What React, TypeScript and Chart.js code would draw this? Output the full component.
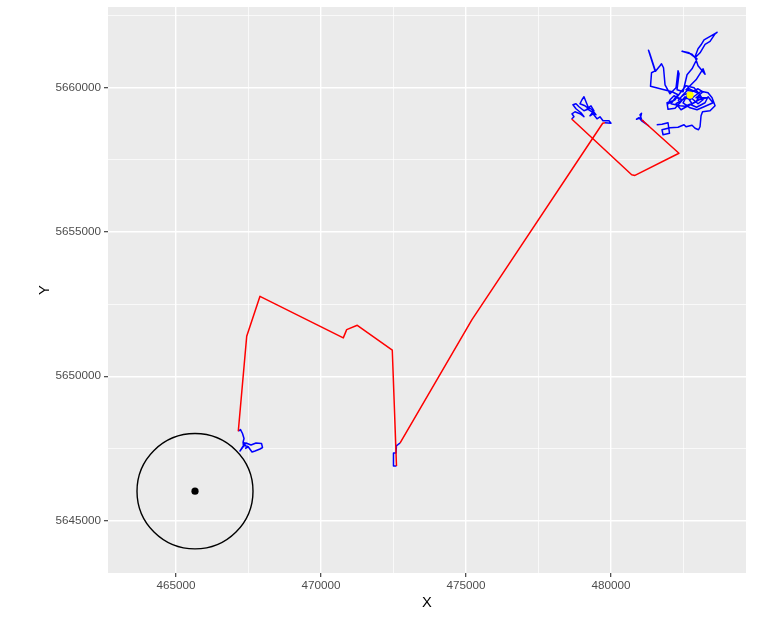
import React, { useEffect, useRef } from "react";
import { Chart, registerables } from "chart.js";

Chart.register(...registerables);

// axis ranges and ticks
const xRange = [462655, 484655];
const yRange = [5643180, 5662800];
const xMajor = [465000, 470000, 475000, 480000];
const xMinor = [467500, 472500, 477500, 482500];
const yMajor = [5645000, 5650000, 5655000, 5660000];
const yMinor = [5647500, 5652500, 5657500, 5662500];

// circle (center + radius in metres) and its centre point
const circleCenter: [number, number] = [465655, 5646015];
const circleRadius = 2000;
const yellowPoint: [number, number] = [482725, 5659747];

// blue GPS tracks
const blueTrack1: [number, number][] = [
  [467148, 5648095], [467224, 5648153], [467293, 5648015], [467345, 5647842],
  [467311, 5647703], [467414, 5647668], [467328, 5647599], [467207, 5647409],
  [467345, 5647599], [467483, 5647565], [467621, 5647374], [467725, 5647409],
  [467897, 5647478], [467983, 5647530], [467949, 5647668], [467759, 5647686],
  [467587, 5647616], [467414, 5647686], [467311, 5647651], [467483, 5647547],
  [467380, 5647495],
];
const blueTrack2: [number, number][] = [
  [472603, 5646889], [472499, 5646889], [472499, 5647339], [472586, 5647339],
  [472603, 5647599], [472655, 5647634], [472724, 5647685],
];
const blueTrack3: [number, number][] = [
  [479793, 5658788], [480000, 5658770], [479931, 5658857], [479724, 5658857],
  [479620, 5658995], [479517, 5658926], [479379, 5659099], [479275, 5659030],
  [479413, 5659203], [479310, 5659376], [479172, 5659273],
  [479482, 5659065], [479344, 5659238], [479206, 5659342],
  [479137, 5659515], [479068, 5659688], [478999, 5659584], [478930, 5659446],
  [479102, 5659376], [479240, 5659273], [479068, 5659203], [478895, 5659342],
  [478792, 5659446], [478688, 5659411], [478792, 5659273], [478964, 5659134],
  [479068, 5658995], [478930, 5659099], [478757, 5659169], [478654, 5659099],
  [478723, 5658995], [478644, 5658916],
];
const blueTrack4: [number, number][] = [
  [481059, 5658892], [481000, 5659065], [481052, 5659117], [481017, 5658961],
  [480879, 5658909], [480966, 5658961], [481069, 5658840], [481207, 5658753],
  [481293, 5658684], [481173, 5658770], [481086, 5658874],
];
const blueTrack5: [number, number][] = [
  [481576, 5658718], [481759, 5658736], [481966, 5658788], [482018, 5658424],
  [481794, 5658372], [481759, 5658545], [482035, 5658614], [482311, 5658632],
  [482518, 5658718], [482587, 5658649], [482794, 5658701], [482898, 5658597],
  [483018, 5658545], [483070, 5658649], [483105, 5659030], [483156, 5659169],
  [483415, 5659203], [483588, 5659376], [483484, 5659654], [483346, 5659827],
  [483105, 5659879], [482898, 5659723], [482725, 5659584], [482553, 5659688],
  [482380, 5659480], [482208, 5659290], [481966, 5659255], [481932, 5659480],
  [482139, 5659550], [482311, 5659758], [482104, 5659861], [481966, 5659896],
  [481362, 5660052], [481397, 5660520], [481518, 5660589], [481293, 5661299],
  [481328, 5661212], [481535, 5660572], [481690, 5660762], [481742, 5660831],
  [481811, 5660693], [481863, 5660104], [482035, 5659792], [482242, 5660000],
  [482311, 5660589], [482346, 5660485], [482277, 5659931], [482484, 5659861],
  [482622, 5660450], [482794, 5660658], [482967, 5661005], [482691, 5661212],
  [482449, 5661264], [482794, 5661160], [482898, 5661039], [483070, 5661212],
  [483243, 5661507], [483415, 5661611], [483588, 5661871], [483657, 5661923],
  [483450, 5661801], [483208, 5661663], [483105, 5661490], [483001, 5661351],
  [482898, 5661074], [483001, 5660762], [483243, 5660468], [483174, 5660658],
  [482932, 5660277], [482725, 5660069], [482587, 5659931], [482794, 5659861],
  [483001, 5659965], [483174, 5659861], [482932, 5659654], [483312, 5659654],
  [483036, 5659584], [482794, 5659446], [482656, 5659654], [482449, 5659584],
  [482242, 5659688], [482070, 5659446], [482380, 5659376], [482553, 5659359],
  [482725, 5659428], [482949, 5659325], [483243, 5659480], [483346, 5659688],
  [483519, 5659480], [483208, 5659342], [482967, 5659238], [482725, 5659307],
  [482484, 5659480], [482656, 5659792], [482829, 5659688], [482725, 5659827],
  [482518, 5659758], [482346, 5659619], [482173, 5659723], [482035, 5659584],
  [481966, 5659446], [482208, 5659584], [482415, 5659861], [482587, 5660069],
  [482863, 5660000], [483070, 5659758], [482932, 5659515], [482656, 5659376],
  [482415, 5659238], [482242, 5659446], [482518, 5659619], [482760, 5659654],
  [483001, 5659446], [483174, 5659584], [483036, 5659792], [482691, 5659965],
  [482484, 5659758], [482311, 5659550],
];

// red gap connections
const redTrack1: [number, number][] = [
  [467148, 5648095], [467438, 5651385], [467896, 5652771], [470768, 5651330],
  [470886, 5651617], [471251, 5651766], [472458, 5650907], [472603, 5646889],
];
const redTrack2: [number, number][] = [
  [472724, 5647685], [475206, 5651964], [479713, 5658770], [479793, 5658788],
];
const redTrack3: [number, number][] = [
  [478644, 5658916], [480713, 5656986], [480826, 5656962], [482343, 5657731],
  [481059, 5658892],
];

const blueTracks = [blueTrack1, blueTrack2, blueTrack3, blueTrack4, blueTrack5];
const redTracks = [redTrack1, redTrack2, redTrack3];

const FONT = "'Liberation Sans', Arial, Helvetica, sans-serif";

const toPts = (arr: [number, number][]) => arr.map(([x, y]) => ({ x, y }));

const zeroPad = (axis: any) => {
  axis.paddingTop = 0;
  axis.paddingBottom = 0;
  axis.paddingLeft = 0;
  axis.paddingRight = 0;
};

export default function App() {
  const ref = useRef<HTMLCanvasElement | null>(null);

  useEffect(() => {
    if (!ref.current) return;
    const panelBg = {
      id: "panelBg",
      beforeDraw(chart: any) {
        const { ctx, chartArea } = chart;
        ctx.save();
        ctx.fillStyle = "#EBEBEB";
        ctx.fillRect(chartArea.left, chartArea.top, chartArea.right - chartArea.left, chartArea.bottom - chartArea.top);
        ctx.restore();
      },
    };
    const circlePlugin = {
      id: "circle",
      beforeDatasetsDraw(chart: any) {
        const { ctx, scales, chartArea } = chart;
        const xs = scales.x, ys = scales.y;
        const cx = xs.getPixelForValue(circleCenter[0]);
        const cy = ys.getPixelForValue(circleCenter[1]);
        const rx = xs.getPixelForValue(circleCenter[0] + circleRadius) - cx;
        const ry = cy - ys.getPixelForValue(circleCenter[1] + circleRadius);
        ctx.save();
        ctx.beginPath();
        ctx.rect(chartArea.left, chartArea.top, chartArea.right - chartArea.left, chartArea.bottom - chartArea.top);
        ctx.clip();
        ctx.beginPath();
        ctx.ellipse(cx, cy, rx, ry, 0, 0, Math.PI * 2);
        ctx.strokeStyle = "#000000";
        ctx.lineWidth = 1.4;
        ctx.stroke();
        ctx.restore();
      },
    };

    const lineDs = (arr: [number, number][], color: string, order: number) => ({
      data: toPts(arr),
      showLine: true,
      borderColor: color,
      backgroundColor: color,
      borderWidth: 1.5,
      pointRadius: 0,
      pointHoverRadius: 0,
      tension: 0,
      borderJoinStyle: "round" as const,
      order,
    });

    const datasets: any[] = [
      ...blueTracks.map((t) => lineDs(t, "#0000FF", 3)),
      ...redTracks.map((t) => lineDs(t, "#FF0000", 2)),
      {
        data: [{ x: circleCenter[0], y: circleCenter[1] }],
        pointRadius: 3.6,
        pointBorderWidth: 0,
        backgroundColor: "#000000",
        borderColor: "#000000",
        order: 1,
      },
      {
        data: [{ x: yellowPoint[0], y: yellowPoint[1] }],
        pointRadius: 3.6,
        pointBorderWidth: 0,
        backgroundColor: "#FFFF00",
        borderColor: "#FFFF00",
        order: 0,
      },
    ];

    const isMajor = (v: number, majors: number[]) => majors.includes(v);

    const chart = new Chart(ref.current, {
      type: "scatter",
      data: { datasets },
      options: {
        animation: false,
        responsive: false,
        events: [],
        layout: { padding: { left: 0, top: 7, right: 36, bottom: 0 } },
        plugins: { legend: { display: false }, tooltip: { enabled: false } },
        scales: {
          x: {
            type: "linear",
            min: xRange[0],
            max: xRange[1],
            afterBuildTicks: (axis: any) => {
              axis.ticks = [...xMajor, ...xMinor].sort((a, b) => a - b).map((v) => ({ value: v }));
            },
            afterFit: (axis: any) => {
              axis.height = 44;
              zeroPad(axis);
            },
            border: { display: false },
            grid: {
              color: "#FFFFFF",
              lineWidth: (c: any) => (isMajor(c.tick?.value, xMajor) ? 1.4 : 0.7),
              tickColor: (c: any) => (isMajor(c.tick?.value, xMajor) ? "#333333" : "rgba(0,0,0,0)"),
              tickLength: 4,
              tickWidth: 1.1,
              drawTicks: true,
            },
            ticks: {
              autoSkip: false,
              maxRotation: 0,
              padding: 2,
              color: "#4D4D4D",
              font: { family: FONT, size: 11.7 },
              callback: (v: any) => (xMajor.includes(Number(v)) ? String(v) : ""),
            },
            title: {
              display: true,
              text: "X",
              color: "#000000",
              font: { family: FONT, size: 14.7 },
              padding: { top: 0, bottom: 5 },
            },
          },
          y: {
            type: "linear",
            min: yRange[0],
            max: yRange[1],
            afterBuildTicks: (axis: any) => {
              axis.ticks = [...yMajor, ...yMinor].sort((a, b) => a - b).map((v) => ({ value: v }));
            },
            afterFit: (axis: any) => {
              axis.width = 108;
              zeroPad(axis);
            },
            border: { display: false },
            grid: {
              color: "#FFFFFF",
              lineWidth: (c: any) => (isMajor(c.tick?.value, yMajor) ? 1.4 : 0.7),
              tickColor: (c: any) => (isMajor(c.tick?.value, yMajor) ? "#333333" : "rgba(0,0,0,0)"),
              tickLength: 4,
              tickWidth: 1.1,
              drawTicks: true,
            },
            ticks: {
              autoSkip: false,
              padding: 3,
              color: "#4D4D4D",
              font: { family: FONT, size: 11.7 },
              callback: (v: any) => (yMajor.includes(Number(v)) ? String(v) : ""),
            },
            title: {
              display: true,
              text: "Y",
              color: "#000000",
              font: { family: FONT, size: 14.7 },
              padding: { top: 36, bottom: 0 },
            },
          },
        },
      },
      plugins: [panelBg, circlePlugin],
    } as any);

    return () => chart.destroy();
  }, []);

  return (
    <div style={{ position: "absolute", left: 0, top: 0, width: 782, height: 617, background: "#FFFFFF" }}>
      <canvas ref={ref} width={782} height={617} style={{ display: "block", width: 782, height: 617 }} />
    </div>
  );
}
